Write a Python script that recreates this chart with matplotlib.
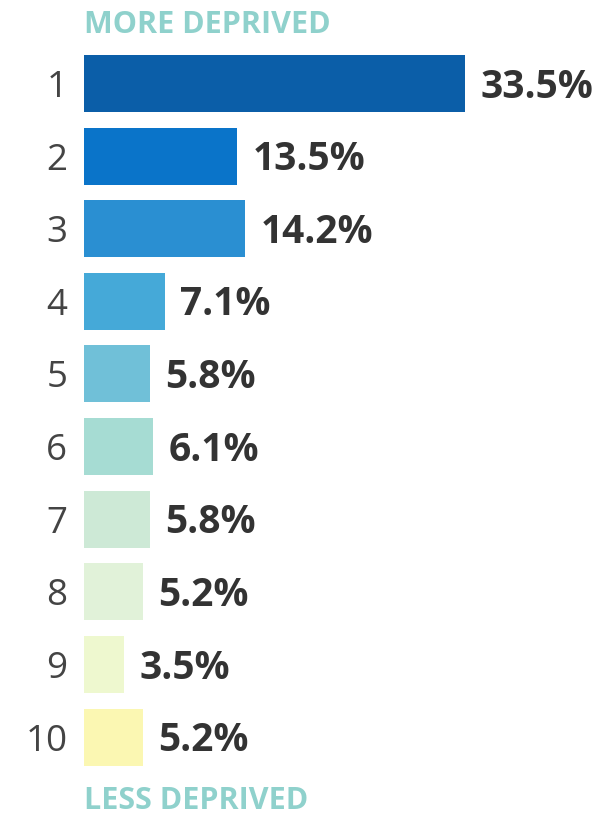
import numpy as np
import matplotlib
matplotlib.use('Agg')
from matplotlib import pyplot as plt

plt.rcParams['font.family'] = ['Open Sans', 'DejaVu Sans']

deciles = ['1', '2', '3', '4', '5', '6', '7', '8', '9', '10']
shares = [33.5, 13.5, 14.2, 7.1, 5.8, 6.1, 5.8, 5.2, 3.5, 5.2]
labels = ['33.5%', '13.5%', '14.2%', '7.1%', '5.8%', '6.1%', '5.8%', '5.2%', '3.5%', '5.2%']
colors = ['#0b5ea8', '#0a74c9', '#2a8fd2', '#45a9d8', '#70c0d8',
          '#a6dcd3', '#cde9d6', '#e1f2d9', '#eef8cf', '#fbf7b2']

fig = plt.figure(figsize=(6.07, 8.22), dpi=100)
ax = fig.add_axes([84 / 607, 0, 1 - 84 / 607, 1])

y = np.arange(len(deciles))
ax.barh(y, shares, height=0.785, color=colors)

# value labels sit a touch below the bar centre in the original
for yi, v, lab in zip(y, shares, labels):
    ax.text(v + 1.35, yi + 0.05, lab, va='center', ha='left', fontsize=28,
            fontweight='bold', color='#333333')

ax.set_xlim(0, (607 - 84) / 11.37)
ax.set_ylim(10.17, -1.15)
ax.set_yticks(y)
ax.set_yticklabels(deciles, fontsize=26.5, color='#444444')
ax.tick_params(axis='y', length=0, pad=12)
ax.set_xticks([])
for s in ax.spines.values():
    s.set_visible(False)

ax.text(0, -0.8, 'MORE DEPRIVED', va='center', ha='left', fontsize=22,
        fontweight='bold', color='#8fd1cc')
ax.text(0, 9.88, 'LESS DEPRIVED', va='center', ha='left', fontsize=22,
        fontweight='bold', color='#8fd1cc')

fig.savefig('out.png', dpi=100)
